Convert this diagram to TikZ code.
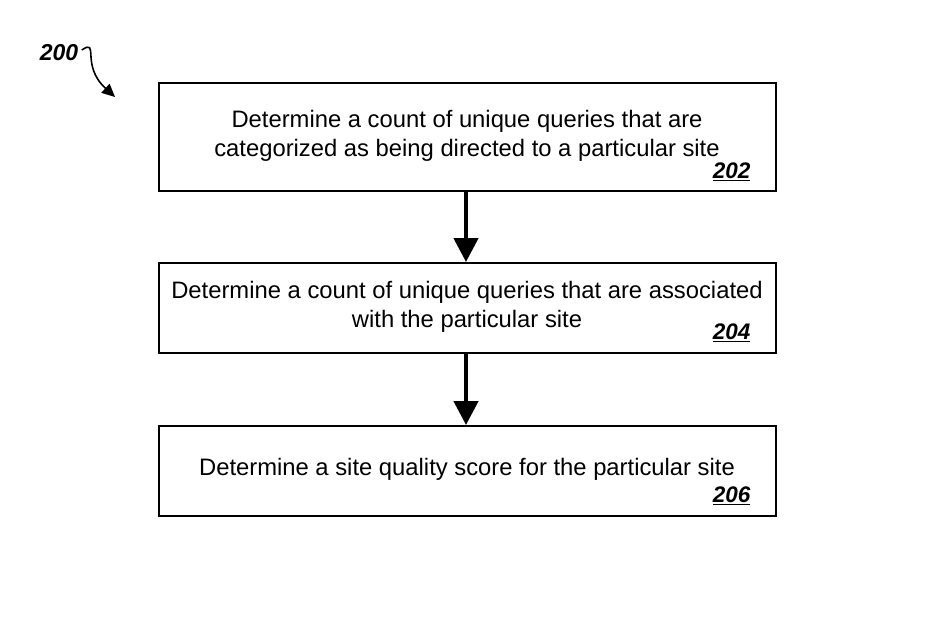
\documentclass[tikz,border=0pt]{standalone}
\usepackage{fontspec}
\setmainfont{Liberation Sans}
\usetikzlibrary{arrows.meta}
\begin{document}
\begin{tikzpicture}[x=1pt,y=-1pt,
 box/.style={draw,line width=1.6pt,minimum width=617pt,anchor=north west,inner sep=0},
 txt/.style={font=\fontsize{23.8}{29}\selectfont,align=center},
 num/.style={font=\fontsize{22.5}{26}\selectfont\bfseries\itshape,anchor=south east},
 conn/.style={line width=4.5pt,-{Triangle[length=24pt,width=24pt]}}]
\useasboundingbox (0,0) rectangle (931,622);
\node[box,minimum height=108pt] (b1) at (158,82) {};
\node[box,minimum height=90pt] (b2) at (158,262) {};
\node[box,minimum height=90pt] (b3) at (158,425) {};
\node[txt] (t1) at (467,136) {Determine a count of unique queries that are\\categorized as being directed to a particular site};
\node[txt] (t2) at (467,307) {Determine a count of unique queries that are associated\\with the particular site};
\node[txt] (t3) at (467,469) {Determine a site quality score for the particular site};
\node[num] (n1) at (754,184) {\underline{202}};
\node[num] (n2) at (754,345) {\underline{204}};
\node[num] (n3) at (754,508) {\underline{206}};
\draw[conn] (b1.south -| 466,0) -- (b2.north -| 466,0);
\draw[conn] (b2.south -| 466,0) -- (b3.north -| 466,0);
\node[font=\fontsize{23}{26}\selectfont\bfseries\itshape] (l200) at (59,53) {200};
\coordinate (e200) at (115,97);
\draw[line width=1.6pt,-{Triangle[length=13pt,width=12pt]}] (l200.east) ++(0,-3) .. controls (100,38) and (80,65) .. (e200);
\end{tikzpicture}
\end{document}
